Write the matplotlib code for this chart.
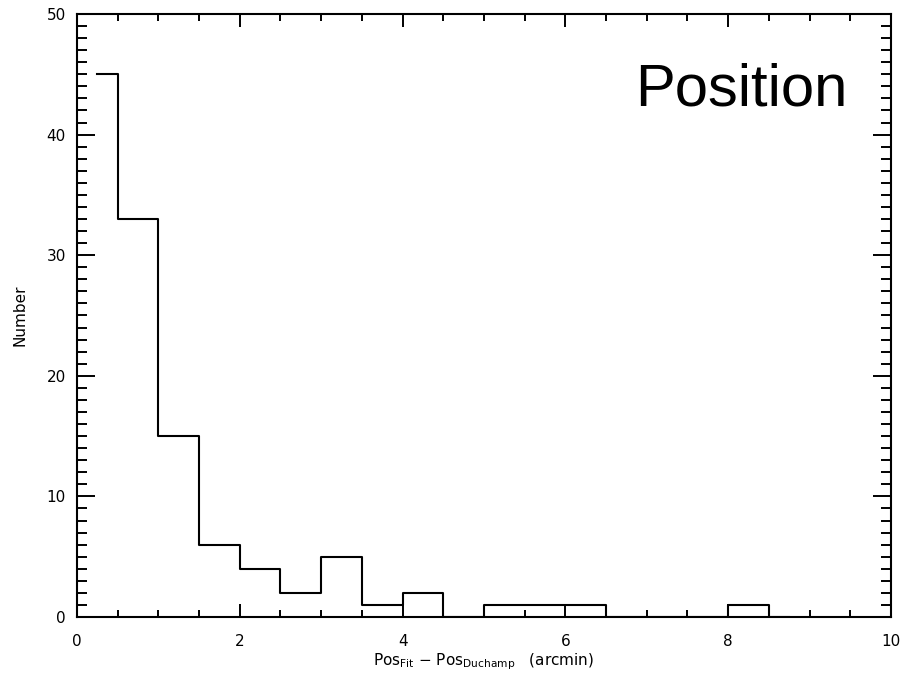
import numpy as np
import matplotlib
matplotlib.use("Agg")
import matplotlib.pyplot as plt
from matplotlib.ticker import MultipleLocator

# bin centres (arcmin) and counts per 0.5 arcmin bin
bin_centres = np.arange(0.25, 9.0, 0.5)
counts = [45, 33, 15, 6, 4, 2, 5, 1, 2, 0, 1, 1, 1, 0, 0, 0, 1, 0]

x_ticks = [0, 2, 4, 6, 8, 10]
y_ticks = [0, 10, 20, 30, 40, 50]

fig = plt.figure(figsize=(9.06, 6.82), dpi=100)
ax = fig.add_axes([0.085, 0.0953, 0.8984, 0.8842])

# histogram drawn IDL psym=10 style
ax.step(bin_centres, counts, where="mid", color="black", lw=1.5)

ax.set_xlim(0, 10)
ax.set_ylim(0, 50)
ax.set_xticks(x_ticks)
ax.set_yticks(y_ticks)
ax.xaxis.set_minor_locator(MultipleLocator(0.5))
ax.yaxis.set_minor_locator(MultipleLocator(1))

ax.tick_params(which="both", direction="in", top=True, right=True,
               width=1.4, labelsize=11)
ax.tick_params(axis="x", which="major", length=9.5, pad=12)
ax.tick_params(axis="x", which="minor", length=5)
ax.tick_params(axis="y", which="major", length=13, pad=8)
ax.tick_params(axis="y", which="minor", length=7)
for s in ax.spines.values():
    s.set_linewidth(1.5)

ax.set_xlabel(r"Pos$_{\rm Fit}$ $-$ Pos$_{\rm Duchamp}$   (arcmin)", fontsize=11, labelpad=2)
ax.set_ylabel("Number", fontsize=11, labelpad=14)

ax.text(0.947, 0.849, "Position", transform=ax.transAxes, ha="right",
        va="baseline", fontsize=43, family="Liberation Sans")

fig.savefig("out.png", dpi=100)
